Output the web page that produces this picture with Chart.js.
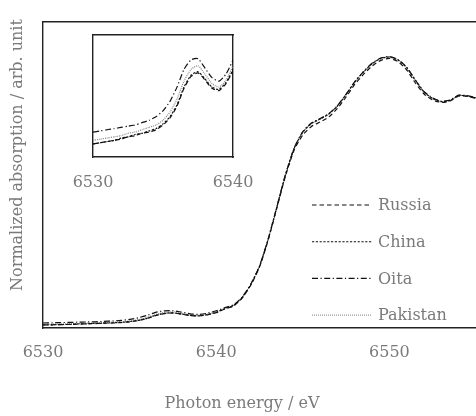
<!DOCTYPE html>
<html>
<head>
<meta charset="utf-8">
<script src="https://cdn.jsdelivr.net/npm/chart.js@4.4.1/dist/chart.umd.min.js"></script>
<style>
  body { margin: 0; background: #fff; }
  #wrap { position: relative; width: 476px; height: 416px; }
  #wrap canvas { position: absolute; left: 0; top: 0; }
</style>
</head>
<body>
<div id="wrap">
  <canvas id="mainChart" width="476" height="416"></canvas>
  <canvas id="insetChart" width="476" height="416"></canvas>
</div>
<script>
// photon energy (eV), 0.5 eV steps
const energy = [
  6530, 6530.5, 6531, 6531.5, 6532, 6532.5, 6533, 6533.5, 6534, 6534.5,
  6535, 6535.5, 6536, 6536.5, 6537, 6537.5, 6538, 6538.5, 6539, 6539.5,
  6540, 6540.5, 6541, 6541.5, 6542, 6542.5, 6543, 6543.5, 6544, 6544.5,
  6545, 6545.5, 6546, 6546.5, 6547, 6547.5, 6548, 6548.5, 6549, 6549.5,
  6550, 6550.5, 6551, 6551.5, 6552, 6552.5, 6553, 6553.5, 6554, 6554.5, 6555
];

// normalized absorption
const russia = [
  0.005, 0.006, 0.007, 0.008, 0.009, 0.011, 0.012, 0.014, 0.015, 0.017,
  0.021, 0.027, 0.037, 0.052, 0.062, 0.065, 0.059, 0.052, 0.050, 0.056,
  0.067, 0.085, 0.100, 0.140, 0.205, 0.295, 0.430, 0.590, 0.750, 0.880,
  0.955, 0.998, 1.020, 1.045, 1.088, 1.145, 1.208, 1.258, 1.300, 1.328,
  1.338, 1.322, 1.280, 1.215, 1.160, 1.130, 1.118, 1.125, 1.150, 1.148, 1.138
];
const china = [
  0.005, 0.006, 0.007, 0.008, 0.010, 0.011, 0.013, 0.014, 0.016, 0.018,
  0.022, 0.028, 0.038, 0.053, 0.063, 0.066, 0.060, 0.053, 0.051, 0.057,
  0.068, 0.086, 0.102, 0.142, 0.208, 0.298, 0.433, 0.594, 0.756, 0.888,
  0.970, 1.013, 1.035, 1.060, 1.100, 1.157, 1.220, 1.270, 1.312, 1.338,
  1.345, 1.330, 1.292, 1.228, 1.170, 1.138, 1.122, 1.128, 1.152, 1.150, 1.140
];
const oita = [
  0.015, 0.016, 0.017, 0.018, 0.019, 0.020, 0.021, 0.023, 0.025, 0.028,
  0.033, 0.041, 0.053, 0.068, 0.076, 0.077, 0.069, 0.061, 0.058, 0.064,
  0.076, 0.092, 0.106, 0.145, 0.210, 0.300, 0.435, 0.595, 0.757, 0.890,
  0.972, 1.015, 1.037, 1.062, 1.102, 1.159, 1.222, 1.272, 1.314, 1.340,
  1.347, 1.332, 1.294, 1.230, 1.172, 1.140, 1.124, 1.130, 1.154, 1.152, 1.142
];
const pakistan = [
  0.008, 0.009, 0.010, 0.011, 0.012, 0.014, 0.015, 0.017, 0.019, 0.021,
  0.025, 0.032, 0.043, 0.058, 0.068, 0.071, 0.064, 0.056, 0.053, 0.059,
  0.071, 0.088, 0.102, 0.142, 0.207, 0.297, 0.432, 0.592, 0.754, 0.886,
  0.968, 1.011, 1.034, 1.059, 1.099, 1.157, 1.219, 1.269, 1.311, 1.337,
  1.345, 1.330, 1.291, 1.227, 1.169, 1.137, 1.121, 1.128, 1.152, 1.150, 1.140
];

const seriesNames = ['Russia', 'China', 'Oita', 'Pakistan'];
const seriesValues = [russia, china, oita, pakistan];
const mainTicks = [6530, 6540, 6550];
const insetTicks = [6530, 6540];
const xTitle = 'Photon energy / eV';
const yTitle = 'Normalized absorption / arb. unit';

const textGray = '#7a7a7a';
const serif = '"DejaVu Serif", "Liberation Serif", serif';
const frameColor = '#222';

const lineStyles = [
  { color: '#111', dash: [4.5, 3] },
  { color: '#111', dash: [2.2, 1.6] },
  { color: '#111', dash: [6, 2.5, 1.2, 2.5] },
  { color: '#8a8a8a', dash: [1, 1] }
];

function buildDatasets() {
  return seriesNames.map((name, i) => ({
    label: name,
    data: energy.map((e, j) => ({ x: e, y: seriesValues[i][j] })),
    borderColor: lineStyles[i].color,
    borderDash: lineStyles[i].dash,
    borderWidth: 1.2,
    pointRadius: 0,
    tension: 0.2,
    fill: false
  }));
}

function frameAxis(pos, fit) {
  return {
    type: 'linear',
    position: pos,
    ticks: { display: false },
    grid: { display: false, drawTicks: false },
    border: { display: true, color: frameColor, width: 1.4 },
    afterFit: fit
  };
}

function tickAxis(min, max, list, pad, h) {
  return {
    type: 'linear',
    min: min,
    max: max,
    grid: { display: false, drawTicks: false },
    border: { display: true, color: frameColor, width: 1.4 },
    ticks: {
      color: textGray,
      font: { family: serif, size: 16 },
      padding: pad,
      maxRotation: 0,
      callback: v => String(v)
    },
    afterBuildTicks: s => { s.ticks = list.map(v => ({ value: v })); },
    afterFit: s => { s.height = h; }
  };
}

// legend drawn inside the plot, lower right
const sampleLegend = {
  id: 'sampleLegend',
  afterDraw(chart) {
    const ctx = chart.ctx;
    chart.data.datasets.forEach((ds, i) => {
      const y = 205 + i * 36.7;
      ctx.save();
      ctx.strokeStyle = ds.borderColor;
      ctx.lineWidth = 1.1;
      ctx.setLineDash(ds.borderDash);
      ctx.beginPath();
      ctx.moveTo(312, y);
      ctx.lineTo(372, y);
      ctx.stroke();
      ctx.setLineDash([]);
      ctx.fillStyle = textGray;
      ctx.font = '16px ' + serif;
      ctx.textBaseline = 'middle';
      ctx.fillText(ds.label, 378, y + 1);
      ctx.restore();
    });
  }
};

const axisTitles = {
  id: 'axisTitles',
  afterDraw(chart) {
    const ctx = chart.ctx;
    ctx.save();
    ctx.fillStyle = textGray;
    ctx.font = '16px ' + serif;
    ctx.textAlign = 'center';
    ctx.textBaseline = 'middle';
    ctx.fillText(xTitle, 242, 404);
    ctx.translate(18, 155);
    ctx.rotate(-Math.PI / 2);
    ctx.fillText(yTitle, 0, 0);
    ctx.restore();
  }
};

new Chart(document.getElementById('mainChart'), {
  type: 'line',
  data: { datasets: buildDatasets() },
  options: {
    responsive: false,
    animation: false,
    layout: { padding: { left: 43, top: 22, right: 0, bottom: 0 } },
    plugins: { legend: { display: false }, tooltip: { enabled: false } },
    scales: {
      x: tickAxis(6530, 6555, mainTicks, 15, 88),
      xTop: Object.assign(frameAxis('top', s => { s.height = 0; }), { min: 6530, max: 6555 }),
      y: Object.assign(frameAxis('left', s => { s.width = 0; }), { min: -0.01, max: 1.52 })
    }
  },
  plugins: [sampleLegend, axisTitles]
});

new Chart(document.getElementById('insetChart'), {
  type: 'line',
  data: { datasets: buildDatasets() },
  options: {
    responsive: false,
    animation: false,
    layout: { padding: { left: 93, top: 35, right: 243, bottom: 219 } },
    plugins: { legend: { display: false }, tooltip: { enabled: false } },
    scales: {
      x: tickAxis(6530, 6540, insetTicks, 16, 40),
      xTop: Object.assign(frameAxis('top', s => { s.height = 0; }), { min: 6530, max: 6540 }),
      y: Object.assign(frameAxis('left', s => { s.width = 0; }), { min: -0.006, max: 0.097 }),
      yRight: Object.assign(frameAxis('right', s => { s.width = 0; }), { min: -0.006, max: 0.097 })
    }
  }
});
</script>
</body>
</html>
